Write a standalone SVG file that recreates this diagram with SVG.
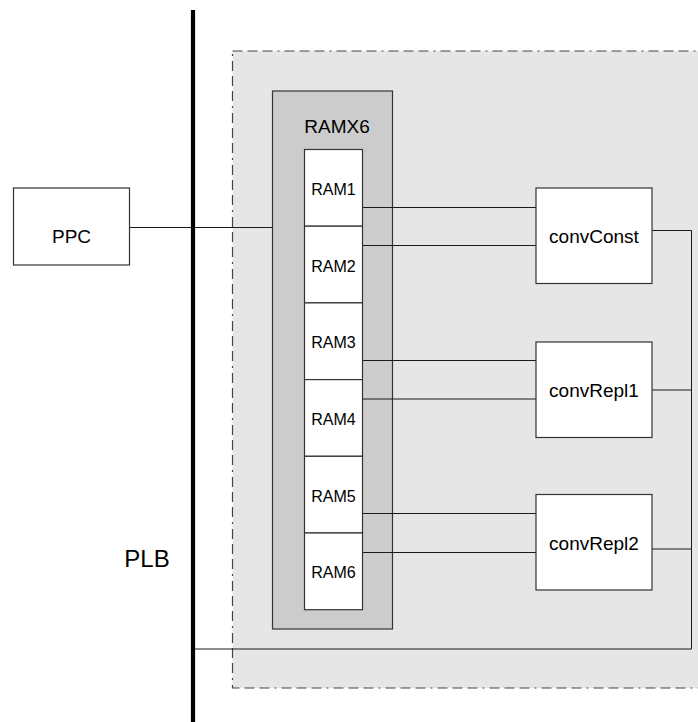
<svg xmlns="http://www.w3.org/2000/svg" width="698" height="722" viewBox="0 0 698 722">
  <style>
    .box { fill: #ffffff; stroke: #333333; stroke-width: 1.2; }
    .wire { fill: none; stroke: #1a1a1a; stroke-width: 1; }
    .lbl { font-family: "Liberation Sans", Arial, sans-serif; fill: #000000; text-anchor: middle; }
    .ram { font-size: 16px; }
    .blk { font-size: 19px; }
  </style>
  <rect width="698" height="722" fill="#ffffff"/>

  <!-- FPGA fabric region (dash-dot outline) -->
  <g id="fabric">
    <rect x="232.5" y="51" width="480" height="637" fill="#e6e6e6" stroke="#444444" stroke-width="1.2" stroke-dasharray="10,5,10,5,10,5,2,5"/>
  </g>

  <!-- RAMX6 container -->
  <g id="RAMX6">
    <rect x="272.5" y="91" width="120" height="538" fill="#cccccc" stroke="#333333" stroke-width="1.2"/>
    <text class="lbl blk" x="337" y="132.5">RAMX6</text>
  </g>

  <!-- connectors -->
  <g id="connectors">
    <!-- PPC to PLB to RAMX6 -->
    <line class="wire" x1="129.5" y1="227.5" x2="272.5" y2="227.5"/>
    <!-- RAM ports to converters -->
    <line class="wire" x1="362.5" y1="207.5" x2="536" y2="207.5"/>
    <line class="wire" x1="362.5" y1="245.5" x2="536" y2="245.5"/>
    <line class="wire" x1="362.5" y1="360.5" x2="536" y2="360.5"/>
    <line class="wire" x1="362.5" y1="399" x2="536" y2="399"/>
    <line class="wire" x1="362.5" y1="513.5" x2="536" y2="513.5"/>
    <line class="wire" x1="362.5" y1="552.5" x2="536" y2="552.5"/>
    <!-- converter outputs back to PLB -->
    <line class="wire" x1="652" y1="230.5" x2="691.5" y2="230.5"/>
    <line class="wire" x1="652" y1="390" x2="691.5" y2="390"/>
    <line class="wire" x1="652" y1="549" x2="691.5" y2="549"/>
    <polyline class="wire" points="691.5,230.5 691.5,649 193,649"/>
  </g>

  <!-- PLB bus -->
  <g id="PLB">
    <line x1="193" y1="10" x2="193" y2="722" stroke="#000000" stroke-width="4.2"/>
    <text class="lbl" x="147" y="566.5" font-size="24px">PLB</text>
  </g>

  <!-- processor -->
  <g id="PPC">
    <rect class="box" x="13.5" y="188" width="116" height="77"/>
    <text class="lbl blk" x="71.5" y="243.3">PPC</text>
  </g>

  <!-- RAM blocks -->
  <g id="RAM1">
    <rect class="box" x="304.5" y="149.5" width="58" height="76.7"/>
    <text class="lbl ram" x="333.5" y="194.8">RAM1</text>
  </g>
  <g id="RAM2">
    <rect class="box" x="304.5" y="226.2" width="58" height="76.7"/>
    <text class="lbl ram" x="333.5" y="271.5">RAM2</text>
  </g>
  <g id="RAM3">
    <rect class="box" x="304.5" y="302.9" width="58" height="76.7"/>
    <text class="lbl ram" x="333.5" y="348.2">RAM3</text>
  </g>
  <g id="RAM4">
    <rect class="box" x="304.5" y="379.6" width="58" height="76.7"/>
    <text class="lbl ram" x="333.5" y="424.9">RAM4</text>
  </g>
  <g id="RAM5">
    <rect class="box" x="304.5" y="456.3" width="58" height="76.7"/>
    <text class="lbl ram" x="333.5" y="501.6">RAM5</text>
  </g>
  <g id="RAM6">
    <rect class="box" x="304.5" y="533" width="58" height="76.7"/>
    <text class="lbl ram" x="333.5" y="578.3">RAM6</text>
  </g>

  <!-- converters -->
  <g id="convConst">
    <rect class="box" x="536" y="188" width="116" height="95.5"/>
    <text class="lbl blk" x="594" y="243.3">convConst</text>
  </g>
  <g id="convRepl1">
    <rect class="box" x="536" y="342" width="116" height="95.5"/>
    <text class="lbl blk" x="594" y="396.5">convRepl1</text>
  </g>
  <g id="convRepl2">
    <rect class="box" x="536" y="494.5" width="116" height="95.5"/>
    <text class="lbl blk" x="594" y="549.5">convRepl2</text>
  </g>
</svg>
